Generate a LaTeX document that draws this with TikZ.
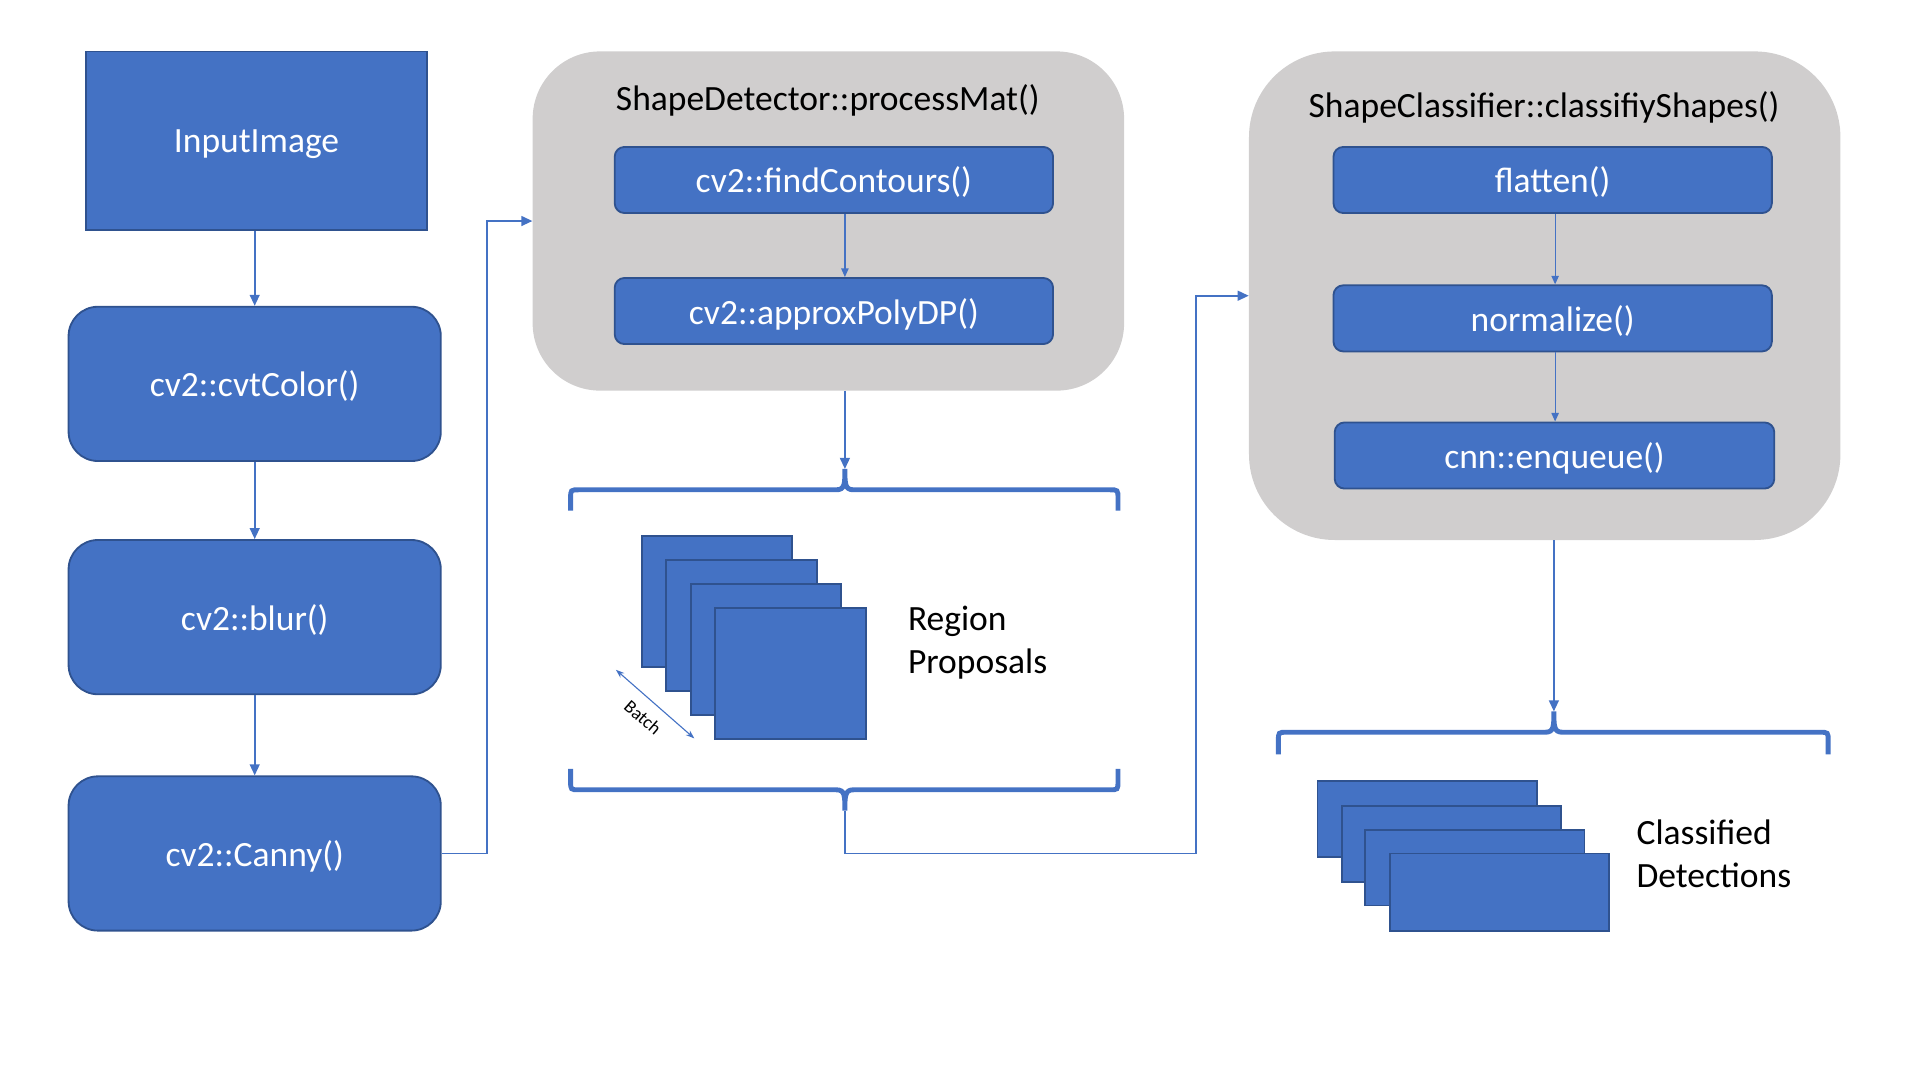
\documentclass[tikz,border=0pt]{standalone}
\usepackage{fontspec}
\setmainfont{Carlito}
\usetikzlibrary{arrows.meta}
\definecolor{boxblue}{HTML}{4472C4}
\definecolor{boxedge}{HTML}{2F528F}
\definecolor{grp}{HTML}{D0CECE}
\begin{document}
\begin{tikzpicture}[x=1pt,y=-1pt,
 lbl/.style={font=\fontsize{29}{35}\selectfont},
 bluebox/.style={lbl, fill=boxblue, draw=boxedge, line width=1.5pt, text=white, inner sep=0pt, text depth=0pt},
 stepnode/.style={bluebox, rounded corners=24pt, minimum width=304pt, minimum height=126pt},
 innerbox/.style={bluebox, rounded corners=8pt, minimum width=358pt, minimum height=54pt},
 group/.style={fill=grp, draw=none, inner sep=0pt},
 conn/.style={draw=boxblue, line width=1.5pt, -{Triangle[length=9pt,width=8pt]}},
 thinconn/.style={draw=boxblue, line width=1pt, -{Triangle[length=7pt,width=6pt]}},
 brace/.style={draw=boxblue, line width=4pt},
 card/.style={fill=boxblue, draw=boxedge, line width=1.5pt},
]
\useasboundingbox (0,0) rectangle (1568,882);

% left column
\node[bluebox, minimum width=279pt, minimum height=146pt] (input) at (209.5,115) {InputImage};
\node[stepnode] (cvt) at (208,313.5) {cv2::cvtColor()};
\node[stepnode] (blur) at (208,504) {cv2::blur()};
\node[stepnode] (canny) at (208,697) {cv2::Canny()};
\draw[conn] (cvt.north |- input.south) -- (cvt.north);
\draw[conn] (cvt.south) -- (blur.north);
\draw[conn] (blur.south) -- (canny.north);

% shape detector group
\node[group, rounded corners=55pt, minimum width=483pt, minimum height=277pt] (det) at (676.5,180.5) {};
\node[lbl, text=black] (dettitle) at (676,82) {ShapeDetector::processMat()};
\node[innerbox] (find) at (681,147) {cv2::findContours()};
\node[innerbox] (approx) at (681,254) {cv2::approxPolyDP()};
\coordinate (fx) at (690,0);
\draw[thinconn] (fx |- find.south) -- (fx |- approx.north);

\coordinate (cj1) at (398,697);
\draw[conn] (canny.east) -- (cj1) |- (det.west);

% region proposals braces
\coordinate (rtip) at (690,383);
\coordinate (btip) at (690,662);
\draw[conn] (rtip |- det.south) -- (rtip);
\draw[brace] (466,417) -- (466,407) .. controls (466,400) .. (473,400) -- (683,400)
  .. controls (690,400) and (690,395) .. (rtip)
  .. controls (690,395) and (690,400) .. (697,400) -- (906,400)
  .. controls (913,400) .. (913,407) -- (913,417);
\draw[brace] (466,628) -- (466,638) .. controls (466,645) .. (473,645) -- (683,645)
  .. controls (690,645) and (690,650) .. (btip)
  .. controls (690,650) and (690,645) .. (697,645) -- (906,645)
  .. controls (913,645) .. (913,638) -- (913,628);

% region proposal cards
\draw[card] (524,438) rectangle ++(123,107);
\draw[card] (544,457.5) rectangle ++(123,107);
\draw[card] (564,477) rectangle ++(123,107);
\draw[card] (584,496.5) rectangle ++(123,107);
\coordinate (ba) at (503,547);
\coordinate (bb) at (567,603);
\draw[draw=boxblue, line width=0.9pt, {Stealth[length=7pt,width=5pt]}-{Stealth[length=7pt,width=5pt]}] (ba) -- (bb);
\node[font=\fontsize{15}{18}\selectfont, rotate=-41, inner sep=0pt] (batch) at (525,586) {Batch};
\node[lbl, align=left, anchor=west] (rp) at (738,525) {Region\\Proposals};

% shape classifier group
\node[group, rounded corners=70pt, minimum width=483pt, minimum height=399pt] (cls) at (1261.5,241.5) {};
\node[lbl, text=black] (clstitle) at (1261,88) {ShapeClassifier::classifiyShapes()};
\node[innerbox] (flat) at (1268,147) {flatten()};
\node[innerbox] (norm) at (1268,260) {normalize()};
\node[innerbox, minimum width=359pt] (enq) at (1269.5,372) {cnn::enqueue()};
\coordinate (gx) at (1270,0);
\draw[thinconn] (gx |- flat.south) -- (gx |- norm.north);
\draw[thinconn] (gx |- norm.south) -- (gx |- enq.north);

\coordinate (cj2) at (977,697);
\draw[conn] (btip) |- (cj2) |- (cls.west);

% classified braces
\coordinate (ctip) at (1269,581);
\draw[conn] (ctip |- cls.south) -- (ctip);
\draw[brace] (1044,616) -- (1044,605) .. controls (1044,598) .. (1051,598) -- (1262,598)
  .. controls (1269,598) and (1269,593) .. (ctip)
  .. controls (1269,593) and (1269,598) .. (1276,598) -- (1486,598)
  .. controls (1493,598) .. (1493,605) -- (1493,616);

\draw[card] (1076,638) rectangle ++(179,62);
\draw[card] (1096,658) rectangle ++(179,62);
\draw[card] (1115,677.5) rectangle ++(179,62);
\draw[card] (1135,697) rectangle ++(179,63);
\node[lbl, align=left, anchor=west] (cd) at (1333,697) {Classified\\Detections};
\end{tikzpicture}
\end{document}
